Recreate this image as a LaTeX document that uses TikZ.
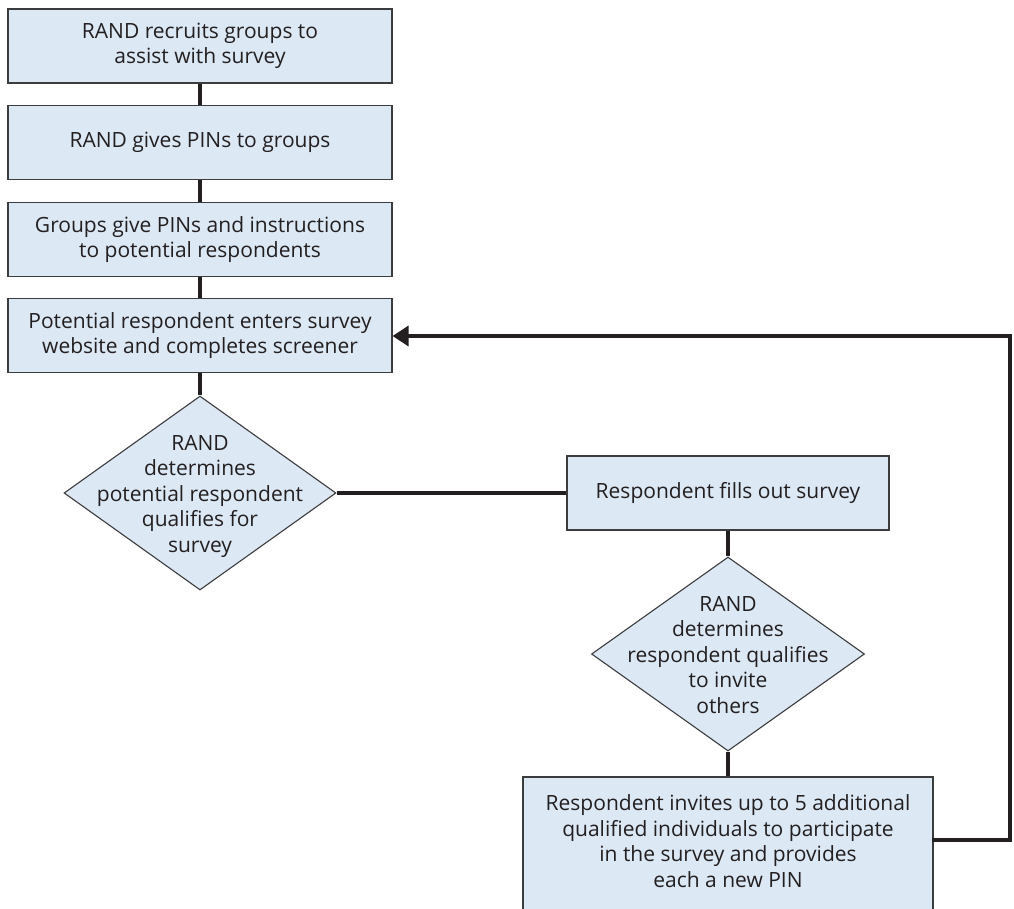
\documentclass[tikz,border=0pt]{standalone}
\usepackage{fontspec}
\setmainfont{Open Sans}
\usetikzlibrary{shapes.geometric,arrows.meta}
\definecolor{boxfill}{RGB}{220,232,244}
\definecolor{boxline}{RGB}{60,60,62}
\definecolor{ink}{RGB}{35,31,32}
\tikzset{
  stepbox/.style={draw=boxline, line width=1.1pt, fill=boxfill, rectangle, inner sep=0pt,
    minimum width=384pt, minimum height=74pt, align=center, text=ink,
    font=\fontsize{21}{25.5}\selectfont},
  decbox/.style={draw=boxline, line width=1.1pt, fill=boxfill, diamond, inner sep=0pt,
    minimum width=272pt, minimum height=194pt},
  dectext/.style={align=center, text=ink, font=\fontsize{21}{25.5}\selectfont},
  link/.style={draw=ink, line width=3.4pt},
}
\begin{document}
\begin{tikzpicture}[x=1pt,y=1pt]
\useasboundingbox (0,0) rectangle (1014,-908);
\node[stepbox] (b1) at (200,-46) {RAND recruits groups to\\assist with survey};
\node[stepbox] (b2) at (200,-142.5) {RAND gives PINs to groups};
\node[stepbox] (b3) at (200,-239.5) {Groups give PINs and instructions\\to potential respondents};
\node[stepbox] (b4) at (200,-335.5) {Potential respondent enters survey\\website and completes screener};
\node[decbox] (d1) at (200,-493) {};
\node[dectext] (t1) at (200,-496) {RAND\\determines\\potential respondent\\qualifies for\\survey};
\node[stepbox, minimum width=322pt] (b5) at (728,-493) {Respondent fills out survey};
\node[decbox, minimum width=273pt] (d2) at (728,-654) {};
\node[dectext] (t2) at (728,-655) {RAND\\determines\\respondent qualifies\\to invite\\others};
\node[stepbox, minimum width=410pt, minimum height=137pt] (b6) at (728,-845.5) {};
\node[dectext] (t6) at (728,-841) {Respondent invites up to 5 additional\\qualified individuals to participate\\in the survey and provides\\each a new PIN};
\coordinate (c1) at (1010,-840);
\coordinate (c2) at (1010,-336);
\draw[link] (b1.south) -- (b2.north);
\draw[link] (b2.south) -- (b3.north);
\draw[link] (b3.south) -- (b4.north);
\draw[link] (b4.south) -- (d1.north);
\draw[link] (d1.east) -- (b5.west);
\draw[link] (b5.south) -- (d2.north);
\draw[link] (d2.south) -- (b6.north);
\draw[link, line cap=rect, -{Triangle[length=16pt,width=20pt]}] (b6.east |- c1) -- (c1) -- (c2) -- (b4.east |- c2);
\end{tikzpicture}
\end{document}
